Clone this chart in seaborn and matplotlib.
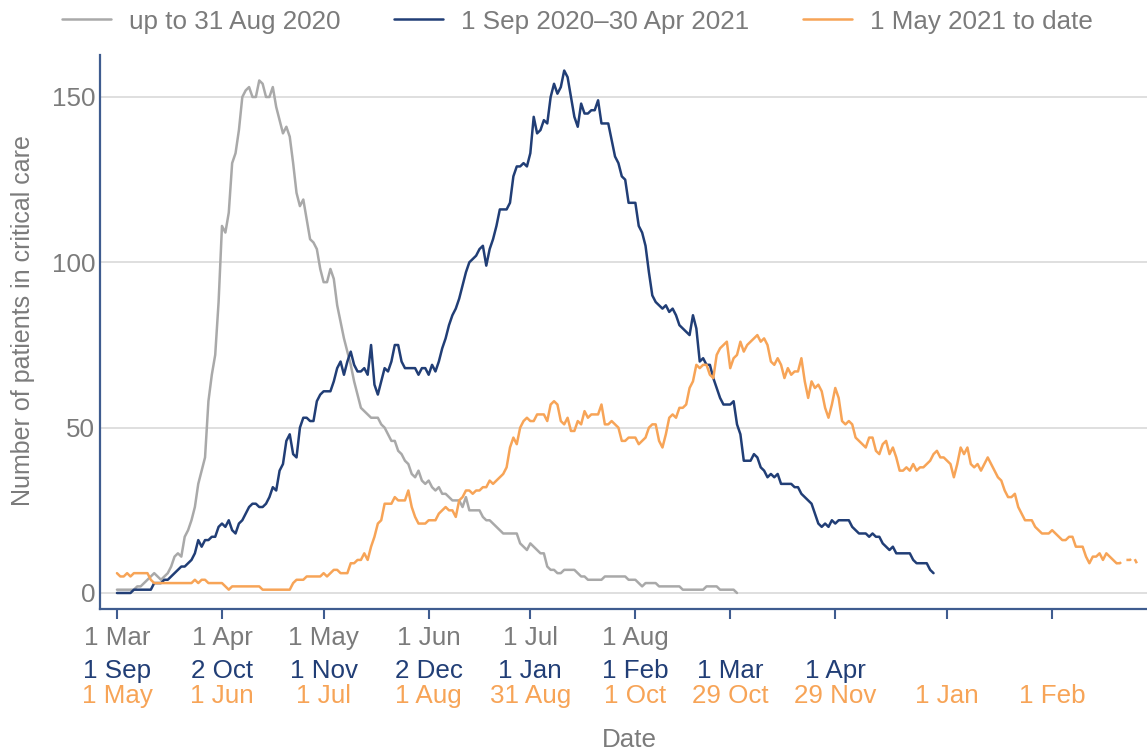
#! /usr/bin/env python3

"""Patients in critical care for three periods of the pandemic,
each period plotted against days since its own start."""

import numpy as np
import pandas as pd
import seaborn as sns
import matplotlib.pyplot as plt

# daily counts, each list starts on the first day of its period
up_to_aug_2020 = [
    1, 1, 1, 1, 1, 1,
    2, 2, 3, 4, 5, 6, 5, 4, 5, 6, 8, 11, 12, 11, 17,
    19, 22, 26, 33, 37, 41, 58, 66, 72, 88, 111, 109, 115, 130, 133,
    140, 150, 152, 153, 150, 150, 155, 154, 150, 150, 153, 147, 143, 139, 141,
    138, 130, 121, 117, 119, 113, 107, 106, 104, 98, 94, 94, 98, 95, 87,
    82, 77, 73, 69, 64, 60, 56, 55, 54, 53, 53, 53, 51, 50, 48,
    46, 46, 43, 42, 40, 39, 36, 35, 37, 34, 33, 34, 32, 31, 32,
    30, 30, 29, 28, 28, 28, 26, 29, 25, 25, 25, 25, 23, 22, 22,
    21, 20, 19, 18, 18, 18, 18, 18, 15, 14, 13, 15, 14, 13, 12,
    12, 8, 7, 7, 6, 6, 7, 7, 7, 7, 6, 5, 5, 4, 4,
    4, 4, 4, 5, 5, 5, 5, 5, 5, 5, 4, 4, 4, 3, 2,
    3, 3, 3, 3, 2, 2, 2, 2, 2, 2, 2, 1, 1, 1, 1,
    1, 1, 1, 2, 2, 2, 2, 1, 1, 1, 1, 1, 0,
]

sep_2020_to_apr_2021 = [
    0, 0, 0, 0, 0, 1, 1, 1, 1, 1, 1, 3, 3, 3, 4,
    4, 5, 6, 7, 8, 8, 9, 10, 12, 16, 14, 16, 16, 17, 17,
    20, 21, 20, 22, 19, 18, 21, 22, 24, 26, 27, 27, 26, 26, 27,
    29, 32, 31, 37, 39, 46, 48, 42, 41, 50, 53, 53, 52, 52, 58,
    60, 61, 61, 61, 64, 68, 70, 66, 70, 73, 69, 67, 67, 68, 66,
    75, 63, 60, 64, 68, 67, 70, 75, 75, 70, 68, 68, 68, 68, 66,
    68, 68, 66, 69, 67, 70, 74, 77, 81, 84, 86, 89, 93, 97, 100,
    101, 102, 104, 105, 99, 104, 107, 111, 116, 116, 116, 118, 126, 129, 129,
    130, 129, 133, 144, 139, 140, 143, 142, 150, 154, 151, 153, 158, 156, 150,
    144, 141, 148, 145, 145, 146, 146, 149, 142, 142, 142, 137, 132, 130, 126,
    125, 118, 118, 118, 111, 109, 105, 97, 90, 88, 87, 86, 87, 85, 86,
    84, 81, 80, 79, 78, 84, 80, 70, 71, 69, 69, 65, 62, 59, 57,
    57, 57, 58, 51, 48, 40, 40, 40, 42, 41, 38, 37, 35, 36, 35,
    36, 33, 33, 33, 33, 32, 32, 30, 29, 28, 27, 24, 21, 20, 21,
    20, 22, 21, 22, 22, 22, 22, 20, 19, 18, 18, 18, 17, 18, 17,
    17, 15, 14, 13, 14, 12, 12, 12, 12, 12, 10, 9, 9, 9, 9,
    7, 6,
]

may_2021_to_date = [
    6, 5, 5, 6, 5, 6, 6, 6, 6, 6, 4, 3, 3, 3, 3,
    3, 3, 3, 3, 3, 3, 3, 3, 4, 3, 4, 4, 3, 3, 3,
    3, 3, 2, 1, 2, 2, 2, 2, 2, 2, 2, 2, 2, 1, 1,
    1, 1, 1, 1, 1, 1, 1, 3, 4, 4, 4, 5, 5, 5, 5,
    5, 6, 5, 6, 7, 7, 6, 6, 6, 9, 9, 10, 10, 12, 10,
    14, 17, 21, 22, 27, 27, 27, 29, 28, 28, 28, 31, 26, 23, 21,
    21, 21, 22, 22, 22, 24, 25, 26, 25, 25, 23, 28, 29, 31, 31,
    30, 31, 31, 32, 32, 34, 33, 34, 35, 36, 38, 44, 47, 45, 50,
    52, 53, 52, 52, 54, 54, 54, 52, 57, 58, 57, 52, 51, 53, 49,
    49, 52, 51, 55, 53, 54, 54, 54, 57, 51, 51, 52, 51, 50, 46,
    46, 47, 47, 47, 45, 46, 47, 50, 51, 51, 46, 44, 48, 53, 54,
    53, 56, 56, 57, 62, 64, 69, 68, 69, 69, 66, 65, 72, 74, 75,
    76, 68, 71, 72, 76, 73, 75, 76, 77, 78, 76, 77, 75, 70, 69,
    71, 69, 65, 68, 66, 67, 67, 71, 64, 59, 64, 62, 63, 61, 56,
    53, 57, 62, 59, 52, 51, 52, 51, 47, 46, 45, 44, 47, 47, 43,
    42, 45, 46, 42, 44, 41, 37, 37, 38, 37, 39, 37, 38, 38, 39,
    40, 42, 43, 41, 41, 40, 39, 35, 39, 44, 42, 44, 39, 38, 39,
    37, 39, 41, 39, 37, 35, 34, 31, 29, 29, 30, 26, 24, 22, 22,
    22, 20, 19, 18, 18, 18, 19, 18, 17, 16, 16, 17, 17, 14, 14,
    14, 11, 9, 11, 11, 12, 10, 12, 11, 10, 9, 9, 10, 10, 10,
    11, 9,
]
provisional_from = 295  # latest days are provisional, drawn dashed

period_labels = ["up to 31 Aug 2020", "1 Sep 2020\u201330 Apr 2021", "1 May 2021 to date"]
period_colours = ["#a9a9a9", "#213e76", "#f7a457"]

tick_days = [0, 31, 61, 92, 122, 153, 181, 212, 245, 276]
tick_labels_2020 = ["1 Mar", "1 Apr", "1 May", "1 Jun", "1 Jul", "1 Aug"]
tick_labels_2020_21 = ["1 Sep", "2 Oct", "1 Nov", "2 Dec", "1 Jan", "1 Feb", "1 Mar", "1 Apr"]
tick_labels_2021_22 = ["1 May", "1 Jun", "1 Jul", "1 Aug", "31 Aug", "1 Oct",
                       "29 Oct", "29 Nov", "1 Jan", "1 Feb"]

TEXT_GREY = "#7b7b7b"
AXIS_BLUE = "#3f5c8f"
FS = 18.7


def frame(values):
    return pd.DataFrame({"day": np.arange(len(values)), "patients": values})


def main():
    sns.set_style("white")
    plt.rcParams["font.family"] = ["Liberation Sans", "DejaVu Sans"]

    fig = plt.figure(figsize=(11.47, 7.52), dpi=100)
    ax = fig.add_axes([100 / 1147, 1 - 609 / 752, 1047 / 1147, 554 / 752])

    periods = [up_to_aug_2020, sep_2020_to_apr_2021, may_2021_to_date]
    for values, label, colour in zip(periods, period_labels, period_colours):
        df = frame(values)
        if values is may_2021_to_date:
            df = df[df.day <= provisional_from]
        sns.lineplot(data=df, x="day", y="patients", color=colour, lw=1.8,
                     label=label, ax=ax)
    tail = frame(may_2021_to_date)
    tail = tail[tail.day >= provisional_from]
    sns.lineplot(data=tail, x="day", y="patients", color=period_colours[2], lw=1.8,
                 linestyle=(0, (2, 2.5)), legend=False, ax=ax)

    handles, labels = ax.get_legend_handles_labels()
    if ax.get_legend() is not None:
        ax.get_legend().remove()
    fig.legend(handles[:3], labels[:3], loc="center", bbox_to_anchor=(0.5035, 1 - 21.5 / 752),
               ncol=3, frameon=False, fontsize=FS, handlelength=1.88,
               handletextpad=0.69, columnspacing=2.07, labelcolor=TEXT_GREY,
               borderaxespad=0, borderpad=0)

    ax.set_xlim(-5.0, 304.0)
    ax.set_ylim(-4.84, 162.7)
    ax.set_yticks([0, 50, 100, 150])
    ax.yaxis.grid(True, color="#dcdcdc", lw=1.3)
    ax.xaxis.grid(False)
    ax.set_axisbelow(True)
    ax.tick_params(axis="y", length=0, pad=3.6, labelsize=FS, labelcolor=TEXT_GREY)

    ax.set_xticks(tick_days)
    ax.set_xticklabels([])
    ax.tick_params(axis="x", length=7.5, width=1.5, color=AXIS_BLUE, bottom=True)

    for side in ["top", "right"]:
        ax.spines[side].set_visible(False)
    for side in ["left", "bottom"]:
        ax.spines[side].set_color(AXIS_BLUE)
        ax.spines[side].set_linewidth(1.6)

    # three rows of date labels under each tick, one per period
    rows = [(tick_labels_2020, TEXT_GREY, 25.9),
            (tick_labels_2020_21, period_colours[1], 49.7),
            (tick_labels_2021_22, period_colours[2], 67.7)]
    for labels_row, colour, offset in rows:
        for day, text in zip(tick_days, labels_row):
            ax.annotate(text, xy=(day, 0), xycoords=("data", "axes fraction"),
                        xytext=(0, -offset), textcoords="offset points",
                        ha="center", va="baseline", color=colour, fontsize=FS,
                        annotation_clip=False)

    ax.set_xlabel("")
    ax.set_ylabel("")
    fig.text(629 / 1147, 1 - 747 / 752, "Date", ha="center", va="baseline",
             color=TEXT_GREY, fontsize=FS)
    fig.text(23.5 / 1147, 1 - 321 / 752, "Number of patients in critical care",
             rotation=90, ha="center", va="center", color=TEXT_GREY, fontsize=18)

    fig.savefig("out.png", dpi=100)


if __name__ == "__main__":
    main()
